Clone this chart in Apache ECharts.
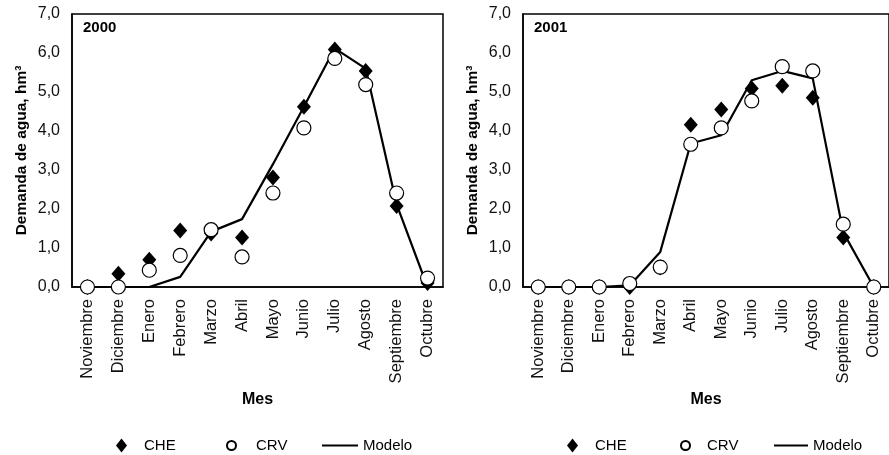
<!DOCTYPE html>
<html>
<head>
<meta charset="utf-8">
<script src="https://cdn.jsdelivr.net/npm/echarts@6/dist/echarts.min.js"></script>
<style>
  html, body { margin: 0; padding: 0; background: #fff; }
  #chart { width: 889px; height: 455px; }
</style>
</head>
<body>
<div id="chart"></div>
<script>
// meses del año hidrológico
const meses = ['Noviembre', 'Diciembre', 'Enero', 'Febrero', 'Marzo', 'Abril',
  'Mayo', 'Junio', 'Julio', 'Agosto', 'Septiembre', 'Octubre']
const yTicks = ['0,0', '1,0', '2,0', '3,0', '4,0', '5,0', '6,0', '7,0']

// 2000
const che2000 = [0, 0.34, 0.70, 1.45, 1.37, 1.27, 2.81, 4.62, 6.09, 5.54, 2.08, 0.1]
const crv2000 = [0, 0, 0.43, 0.81, 1.47, 0.77, 2.41, 4.08, 5.86, 5.19, 2.41, 0.23]
const modelo2000 = [0, 0, 0, 0.26, 1.42, 1.74, 3.15, 4.62, 6.12, 5.6, 2.12, 0]

// 2001
const che2001 = [0, 0, 0, 0, 0.5, 4.16, 4.55, 5.09, 5.16, 4.85, 1.27, 0]
const crv2001 = [0, 0, 0, 0.09, 0.51, 3.66, 4.08, 4.77, 5.65, 5.54, 1.61, 0]
const modelo2001 = [0, 0, 0, 0.04, 0.9, 3.68, 3.89, 5.3, 5.54, 5.35, 1.4, 0]

const font = 'Liberation Sans, Arial, sans-serif'
let chart = echarts.init(document.getElementById('chart'))

function xAxis(idx) {
  return {
    type: 'category',
    gridIndex: idx,
    data: meses,
    boundaryGap: true,
    name: 'Mes',
    nameLocation: 'middle',
    nameGap: 99,
    nameTextStyle: { fontFamily: font, fontWeight: 'bold', fontSize: 16, color: '#000' },
    axisLine: { lineStyle: { color: '#000', width: 1.5 } },
    axisTick: { show: false },
    axisLabel: { rotate: 90, interval: 0, margin: 12, fontFamily: font, fontSize: 16.5, color: '#111' },
    splitLine: { show: false }
  }
}

function yAxis(idx) {
  return {
    type: 'value',
    gridIndex: idx,
    min: 0,
    max: 7,
    interval: 1,
    name: 'Demanda de agua, hm³',
    nameLocation: 'middle',
    nameGap: 42,
    nameTextStyle: { fontFamily: font, fontWeight: 'bold', fontSize: 15.5, color: '#000' },
    axisLine: { show: true, lineStyle: { color: '#000', width: 1.5 } },
    axisTick: { show: false },
    axisLabel: {
      margin: 12, fontFamily: font, fontSize: 16, color: '#111',
      formatter: v => yTicks[Math.round(v)]
    },
    splitLine: { show: false }
  }
}

function seriesFor(idx, che, crv, modelo) {
  return [
    {
      name: 'Modelo', type: 'line', xAxisIndex: idx, yAxisIndex: idx,
      data: modelo, symbol: 'none', z: 2,
      lineStyle: { color: '#000', width: 2.2 }, itemStyle: { color: '#000' }
    },
    {
      name: 'CHE', type: 'scatter', xAxisIndex: idx, yAxisIndex: idx,
      data: che, symbol: 'diamond', symbolSize: [14, 16], z: 3,
      itemStyle: { color: '#000', opacity: 1 }
    },
    {
      name: 'CRV', type: 'scatter', xAxisIndex: idx, yAxisIndex: idx,
      data: crv, symbol: 'circle', symbolSize: 14, z: 4,
      itemStyle: { color: '#fff', borderColor: '#000', borderWidth: 1.2, opacity: 1 }
    }
  ]
}

// una leyenda por elemento, para colocar cada icono donde está en el original
function legendItem(name, icon, left, w, h, pad) {
  let item = { name: name }
  if (icon) item.icon = icon
  let lg = {
    data: [item],
    left: left,
    top: 438,
    padding: 0,
    itemWidth: w,
    itemHeight: h,
    itemGap: 0,
    selectedMode: false,
    lineStyle: { width: 2, color: '#000' },
    textStyle: { fontFamily: font, fontSize: 15, color: '#000', padding: [0, 0, 0, pad] }
  }
  // la línea del modelo va sin símbolo
  if (!icon) lg.itemStyle = { opacity: 0 }
  return lg
}

let option = {
  animation: false,
  backgroundColor: '#fff',
  title: [
    { text: '2000', left: 78, top: 15, textStyle: { fontFamily: font, fontWeight: 'bold', fontSize: 15, color: '#000' } },
    { text: '2001', left: 529, top: 15, textStyle: { fontFamily: font, fontWeight: 'bold', fontSize: 15, color: '#000' } }
  ],
  grid: [
    { left: 72, top: 14, width: 371, height: 273, show: true, borderColor: '#000', borderWidth: 1.5 },
    { left: 523, top: 14, width: 371, height: 273, show: true, borderColor: '#000', borderWidth: 1.5 }
  ],
  legend: [
    legendItem('CHE', 'diamond', 116, 11, 14, 12),
    legendItem('CRV', 'circle', 226, 9, 9, 15),
    legendItem('Modelo', null, 321, 36, 14, 0),
    legendItem('CHE', 'diamond', 567, 11, 14, 12),
    legendItem('CRV', 'circle', 680, 9, 9, 12),
    legendItem('Modelo', null, 773, 34, 14, 0)
  ],
  xAxis: [xAxis(0), xAxis(1)],
  yAxis: [yAxis(0), yAxis(1)],
  series: [
    ...seriesFor(0, che2000, crv2000, modelo2000),
    ...seriesFor(1, che2001, crv2001, modelo2001)
  ]
}

chart.setOption(option)
</script>
</body>
</html>
